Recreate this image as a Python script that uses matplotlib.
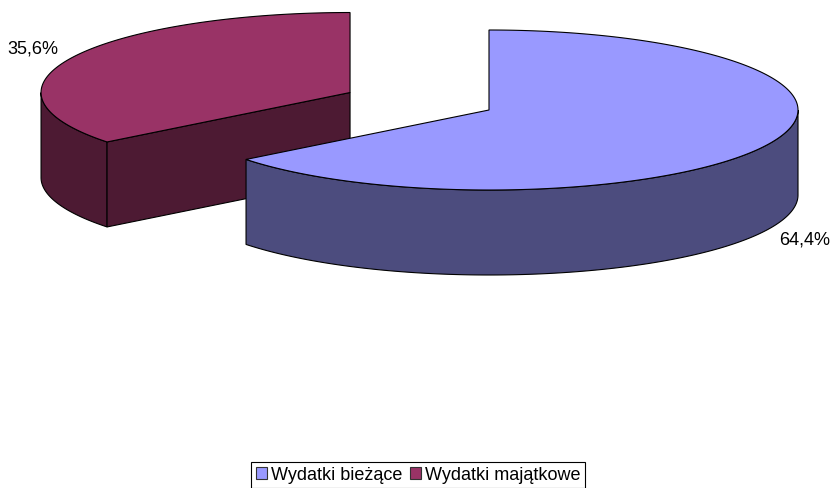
import numpy as np
import matplotlib.pyplot as plt
from matplotlib.patches import Polygon, Patch

# dane
categories = ['Wydatki bieżące', 'Wydatki majątkowe']
values = [64.4, 35.6]
label_texts = ['64,4%', '35,6%']
top_colors = ['#9999FF', '#993366']
side_colors = ['#4C4C7E', '#4D1A33']
explode = [0.0, 0.5]

W, H = 834, 488
cx, cy = 489, 110      # środek tortu (piksele)
rx, ry = 309, 80       # promienie elipsy
depth = 85             # grubość


def ell(x0, y0, t):
    t = np.radians(t)
    return np.column_stack([x0 + rx * np.cos(t), y0 - ry * np.sin(t)])


def main():
    fig = plt.figure(figsize=(W / 100, H / 100), dpi=100)
    ax = fig.add_axes([0, 0, 1, 1])
    ax.set_xlim(0, W)
    ax.set_ylim(H, 0)
    ax.axis('off')

    total = sum(values)
    start = 90.0
    slices = []
    for v, e in zip(values, explode):
        span = v / total * 360.0
        a, b = start - span, start
        mid = np.radians((a + b) / 2)
        x0 = cx + e * rx * np.cos(mid)
        y0 = cy - e * ry * np.sin(mid)
        slices.append((a, b, x0, y0))
        start = a

    # rysowanie od tyłu do przodu
    order = sorted(range(len(values)), key=lambda i: slices[i][3])
    lw = 0.8
    for i in order:
        a, b, x0, y0 = slices[i]
        # ściany boczne (przód)
        for k in range(-2, 2):
            lo, hi = max(a, -180 + 360 * k), min(b, 360 * k)
            if hi > lo:
                t = np.linspace(lo, hi, 200)
                top = ell(x0, y0, t)
                bot = top[::-1] + [0, depth]
                ax.add_patch(Polygon(np.vstack([top, bot]), closed=True,
                                     fc=side_colors[i], ec='black', lw=lw))
        # ściany przekroju
        for ang, nrm in ((a, a - 90), (b, b + 90)):
            if np.sin(np.radians(nrm)) < -1e-6:
                p = ell(x0, y0, [ang])[0]
                pts = [[x0, y0], p, p + [0, depth], [x0, y0 + depth]]
                ax.add_patch(Polygon(pts, closed=True, fc=side_colors[i],
                                     ec='black', lw=lw))
        # wierzch
        t = np.linspace(a, b, 300)
        pts = np.vstack([[x0, y0], ell(x0, y0, t)])
        ax.add_patch(Polygon(pts, closed=True, fc=top_colors[i],
                             ec='black', lw=lw))

    # etykiety
    ax.text(805, 240, label_texts[0], ha='center', va='center',
            fontsize=13, family='Liberation Sans')
    ax.text(33, 49, label_texts[1], ha='center', va='center',
            fontsize=13, family='Liberation Sans')

    handles = [Patch(fc=c, ec='#333333', lw=0.8) for c in top_colors]
    leg = fig.legend(handles, categories, loc='center',
                     bbox_to_anchor=(418 / W, 1 - 475 / H), ncol=2,
                     frameon=True, fancybox=False, framealpha=1,
                     edgecolor='black', handlelength=0.65, handleheight=0.65,
                     handletextpad=0.2, columnspacing=0.4, borderpad=0.25,
                     borderaxespad=0,
                     prop={'family': 'Liberation Sans', 'size': 13})
    leg.get_frame().set_linewidth(0.8)

    fig.savefig('out.png', dpi=100)


if __name__ == '__main__':
    main()
